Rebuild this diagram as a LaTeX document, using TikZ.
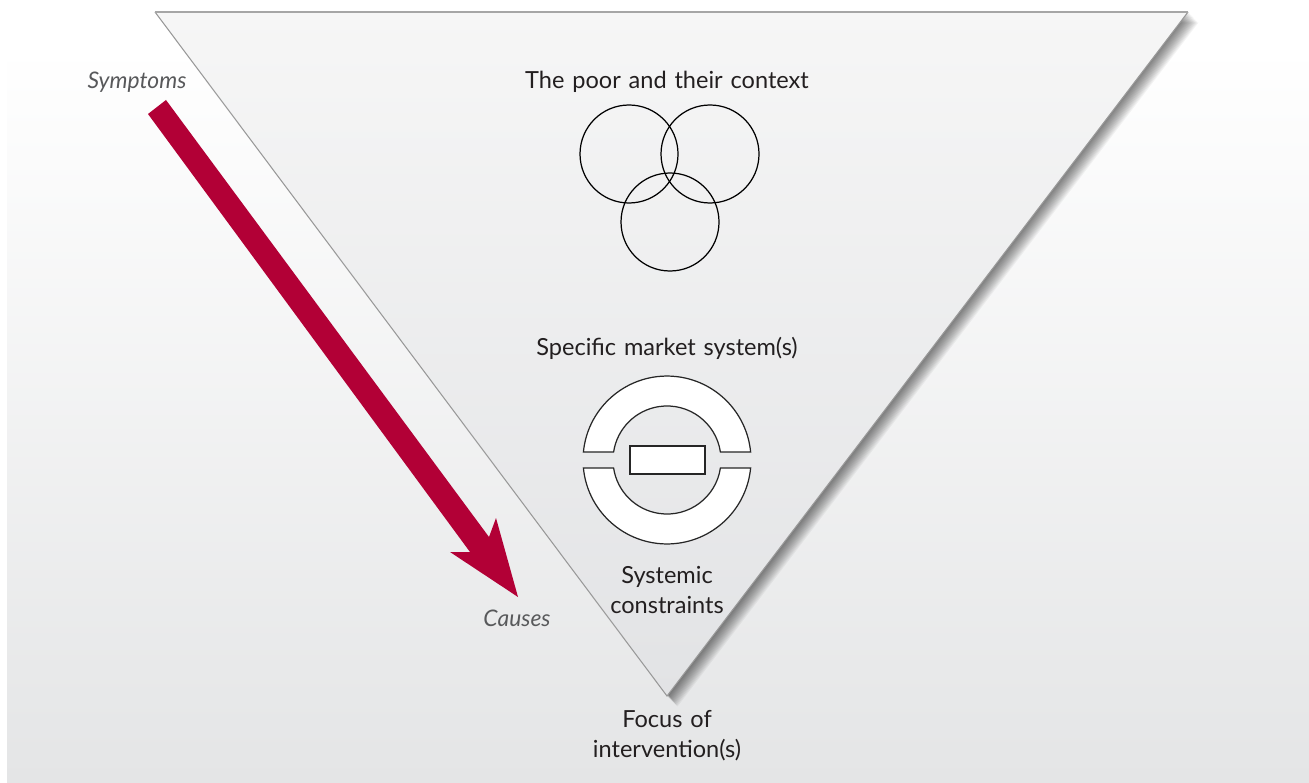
\documentclass[tikz,border=0pt]{standalone}
\usepackage{fontspec}
\setmainfont[WordSpace=1.3]{Lato}
\definecolor{arrowred}{HTML}{B20036}
\definecolor{bglow}{HTML}{E4E5E6}
\definecolor{tritop}{HTML}{F6F6F6}
\definecolor{trilow}{HTML}{E2E3E5}
\definecolor{labeltext}{HTML}{231F20}
\definecolor{sidetext}{HTML}{58595B}
\tikzset{
        bigtext/.style={text=labeltext,font=\fontsize{6.7}{8.5}\selectfont,align=center},
        sidelabel/.style={text=sidetext,font=\fontsize{6.5}{8}\selectfont\itshape},
        ringpart/.style={fill=white,draw=black!85,line width=.35pt}
}

\begin{document}
\begin{tikzpicture}
        \useasboundingbox (0,0) rectangle (13.09,7.82);

        % background
        \fill[white] (0,0) rectangle (13.09,7.82);
        \shade[top color=white,bottom color=bglow] (.07,0) rectangle (13.09,7.35);

        % shadow of the funnel
        \foreach \i in {1,...,14}{
                        {\fill[black,opacity=.045] (1.55+\i*.0075,7.70-\i*.0075) -- (11.88+\i*.0075,7.70-\i*.0075) -- (6.67+\i*.0075,.86-\i*.0075) -- cycle;}
                }

        % funnel
        \shade[top color=tritop,bottom color=trilow] (1.55,7.70) -- (11.88,7.70) -- (6.67,.86) -- cycle;
        \draw[black!40,line width=.3pt] (11.88,7.70) -- (6.67,.86) -- (1.55,7.70);
        \draw[black!35,line width=.6pt] (1.55,7.70) -- (11.88,7.70);

        % three circles
        \draw[black,line width=.35pt] (6.29,6.28) circle (.49);
        \draw[black,line width=.35pt] (7.10,6.28) circle (.49);
        \draw[black,line width=.35pt] (6.70,5.60) circle (.49);

        % market system
        \draw[ringpart] (5.834,3.30) arc[start angle=174.5,end angle=5.5,radius=.84] -- (7.204,3.30) arc[start angle=8.5,end angle=171.5,radius=.54] -- cycle;
        \draw[ringpart] (5.834,3.14) arc[start angle=185.5,end angle=354.5,radius=.84] -- (7.204,3.14) arc[start angle=351.5,end angle=188.5,radius=.54] -- cycle;
        \draw[ringpart] (6.30,3.08) rectangle (7.05,3.36);

        % arrow
        \fill[arrowred] (1.48,6.68) -- (1.66,6.82) -- (4.89,2.45) -- (4.96,2.64) -- (5.18,1.85) -- (4.50,2.30) -- (4.70,2.30) -- cycle;

        \node[bigtext] (poor) at (6.67,7.00) {The poor and their context};
        \node[bigtext] (market) at (6.67,4.34) {Specific market system(s)};
        \node[bigtext] (constraints) at (6.67,1.92) {Systemic\\constraints};
        \node[bigtext] (focus) at (6.67,.46) {Focus of\\intervention(s)};
        \node[sidelabel] (symptoms) at (1.37,7.00) {Symptoms};
        \node[sidelabel] (causes) at (5.17,1.64) {Causes};
\end{tikzpicture}
\end{document}
